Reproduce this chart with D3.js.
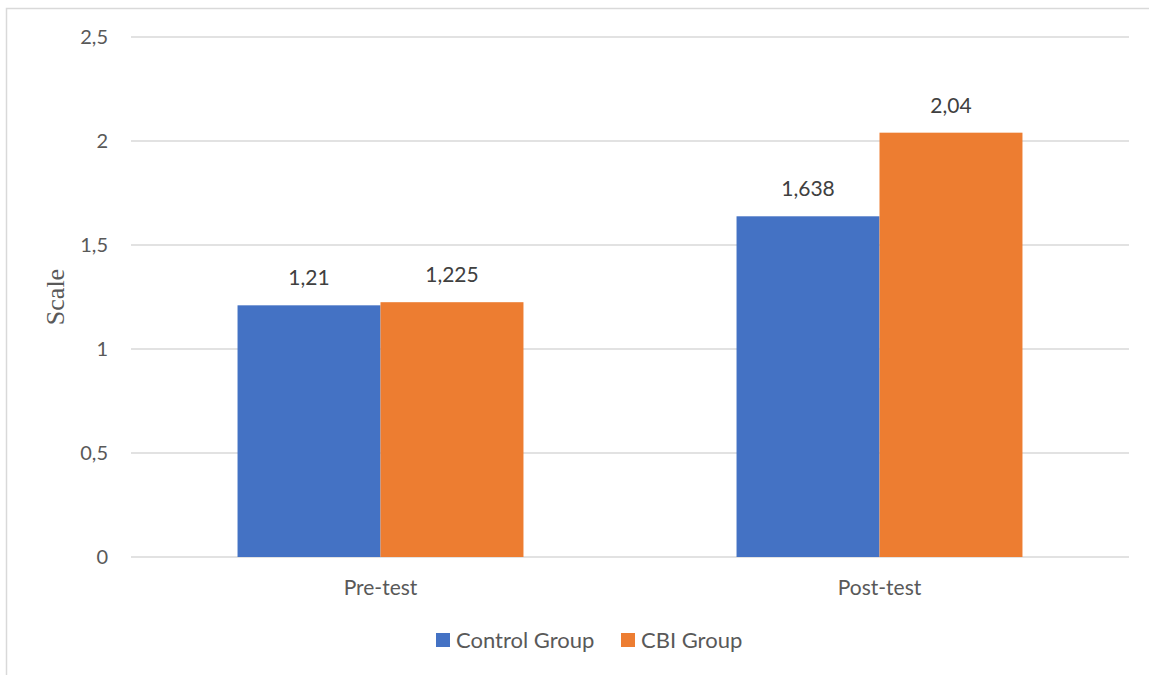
<!DOCTYPE html>
<html>
<head>
<meta charset="utf-8">
<script src="https://cdn.jsdelivr.net/npm/d3@7"></script>
<style>
  html, body { margin: 0; padding: 0; background: #fff; }
  svg { display: block; }
</style>
</head>
<body>
<svg id="chart" width="1149" height="675"></svg>
<script>
// Chart data
const categories = ["Pre-test", "Post-test"];
const seriesNames = ["Control Group", "CBI Group"];
const controlValues = [1.21, 1.638];
const cbiValues = [1.225, 2.04];
const yTicks = [0, 0.5, 1, 1.5, 2, 2.5];
const seriesColors = ["#4472C4", "#ED7D31"];

(function () {
  const seriesValues = [controlValues, cbiValues];
  const fmt = v => String(v).replace(".", ",");

  const svg = d3.select("#chart");
  const font = "Lato, 'Open Sans', sans-serif";
  const fontSize = 21;

  // chart frame
  svg.append("rect")
    .attr("x", 6.5).attr("y", 8.5)
    .attr("width", 1200).attr("height", 700)
    .attr("fill", "none").attr("stroke", "#d9d9d9").attr("stroke-width", 1.5);

  const plotLeft = 131, plotRight = 1129, plotTop = 37, plotBottom = 557;

  const y = d3.scaleLinear().domain([0, 2.5]).range([plotBottom, plotTop]);
  const x0 = d3.scaleBand().domain(categories).range([plotLeft, plotRight])
    .paddingInner(0.427).paddingOuter(0.2135);
  const x1 = d3.scaleBand().domain(seriesNames).range([0, x0.bandwidth()]);

  // gridlines
  svg.append("g").selectAll("line").data(yTicks).join("line")
    .attr("x1", plotLeft).attr("x2", plotRight)
    .attr("y1", d => y(d)).attr("y2", d => y(d))
    .attr("stroke", "#d9d9d9").attr("stroke-width", 1.3);

  // y tick labels
  svg.append("g").selectAll("text").data(yTicks).join("text")
    .attr("x", 108).attr("y", d => y(d))
    .attr("dy", "0.36em")
    .attr("text-anchor", "end")
    .attr("font-family", font).attr("font-size", 20)
    .attr("fill", "#595959")
    .text(d => fmt(d));

  // y axis title
  svg.append("text")
    .attr("transform", `translate(64, ${(plotTop + plotBottom) / 2}) rotate(-90)`)
    .attr("text-anchor", "middle")
    .attr("font-family", "'Liberation Serif', 'Times New Roman', serif")
    .attr("font-size", 26)
    .attr("fill", "#595959")
    .text("Scale");

  // bars
  const groups = svg.append("g").selectAll("g").data(categories).join("g")
    .attr("transform", d => `translate(${x0(d)},0)`);

  groups.selectAll("rect")
    .data((c, ci) => seriesNames.map((s, si) => ({ s, v: seriesValues[si][ci], color: seriesColors[si] })))
    .join("rect")
    .attr("x", d => x1(d.s))
    .attr("y", d => y(d.v))
    .attr("width", x1.bandwidth())
    .attr("height", d => y(0) - y(d.v))
    .attr("fill", d => d.color);

  // value labels
  groups.selectAll("text")
    .data((c, ci) => seriesNames.map((s, si) => ({ s, v: seriesValues[si][ci] })))
    .join("text")
    .attr("x", d => x1(d.s) + x1.bandwidth() / 2)
    .attr("y", d => y(d.v) - 20)
    .attr("text-anchor", "middle")
    .attr("font-family", font).attr("font-size", fontSize)
    .attr("fill", "#404040")
    .text(d => fmt(d.v));

  // category labels
  svg.append("g").selectAll("text").data(categories).join("text")
    .attr("x", d => x0(d) + x0.bandwidth() / 2)
    .attr("y", 595)
    .attr("text-anchor", "middle")
    .attr("font-family", font).attr("font-size", fontSize)
    .attr("fill", "#595959")
    .text(d => d);

  // legend
  const legendItems = [
    { name: seriesNames[0], color: seriesColors[0], x: 436 },
    { name: seriesNames[1], color: seriesColors[1], x: 621 }
  ];
  const lg = svg.append("g").selectAll("g").data(legendItems).join("g")
    .attr("transform", d => `translate(${d.x}, 633)`);
  lg.append("rect").attr("width", 14).attr("height", 14).attr("fill", d => d.color);
  lg.append("text")
    .attr("x", 20).attr("y", 14.5)
    .attr("font-family", font).attr("font-size", 22)
    .attr("fill", "#595959")
    .text(d => d.name);
})();
</script>
</body>
</html>
